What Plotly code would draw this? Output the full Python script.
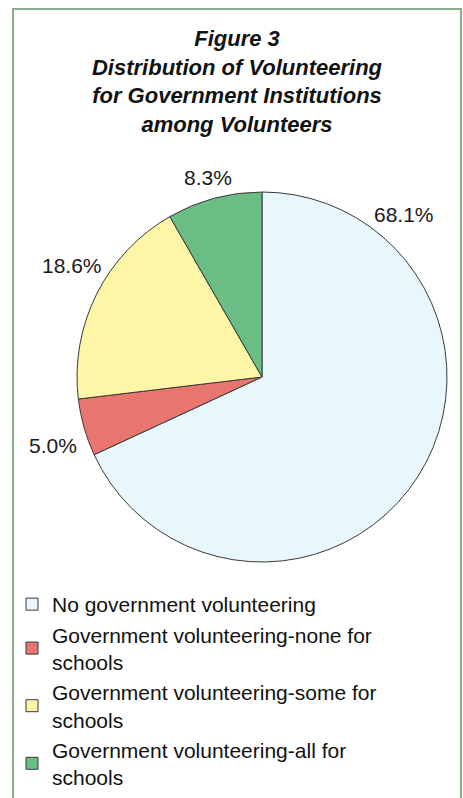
import plotly.graph_objects as go

# Share of volunteers by type of government volunteering
categories = [
    "No government volunteering",
    "Government volunteering-none for<br>schools",
    "Government volunteering-some for<br>schools",
    "Government volunteering-all for<br>schools",
]
shares = [68.1, 5.0, 18.6, 8.3]
colors = ["#E8F7FB", "#E8766E", "#FFF5A6", "#6BBD86"]

# Where each percentage label sits (paper fractions)
label_x = [0.873, 0.115, 0.155, 0.449]
label_y = [0.731, 0.442, 0.667, 0.778]

W, H = 463, 798
FONT = "Liberation Sans, Arial, sans-serif"

fig = go.Figure(
    go.Pie(
        labels=categories,
        values=shares,
        sort=False,
        direction="clockwise",
        rotation=0,
        marker=dict(colors=colors, line=dict(color="#3a3a3a", width=1)),
        textinfo="none",
        hoverinfo="label+percent",
        domain=dict(x=[77 / W, 447 / W], y=[1 - 562 / H, 1 - 192 / H]),
    )
)

annotations = []
for v, x, y in zip(shares, label_x, label_y):
    annotations.append(
        dict(
            text=f"{v:.1f}%",
            x=x, y=y, xref="paper", yref="paper",
            xanchor="center", yanchor="middle",
            showarrow=False,
            font=dict(family=FONT, size=21, color="#1a1a1a"),
        )
    )

fig.update_layout(
    width=W,
    height=H,
    margin=dict(l=0, r=0, t=0, b=0),
    paper_bgcolor="white",
    plot_bgcolor="white",
    title=dict(
        text="<b><i>Figure 3<br>Distribution of Volunteering<br>"
             "for Government Institutions<br>among Volunteers</i></b>",
        x=237 / W,
        xanchor="center",
        y=1 - 46 / H,
        yanchor="top",
        font=dict(family=FONT, size=22, color="#111111"),
    ),
    annotations=annotations,
    showlegend=True,
    legend=dict(
        x=12 / W,
        xanchor="left",
        y=0,
        yanchor="bottom",
        font=dict(family=FONT, size=21, color="#111111"),
        bgcolor="rgba(0,0,0,0)",
        traceorder="normal",
    ),
    shapes=[
        dict(
            type="rect", xref="paper", yref="paper",
            x0=13 / W, x1=461 / W, y0=-0.05, y1=1 - 9 / H,
            line=dict(color="#86B08A", width=2),
            fillcolor="rgba(0,0,0,0)",
        )
    ],
)

fig.write_html("out.html")
